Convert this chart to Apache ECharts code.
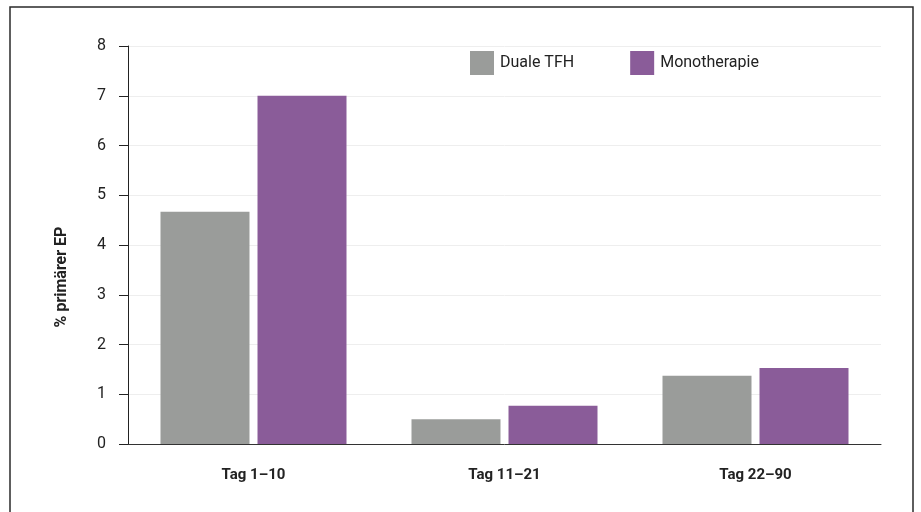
<!DOCTYPE html>
<html>
<head>
<meta charset="utf-8">
<script src="https://cdn.jsdelivr.net/npm/echarts@6/dist/echarts.min.js"></script>
<style>
  html, body { margin: 0; padding: 0; background: #fff; }
  #chart { width: 921px; height: 512px; }
</style>
</head>
<body>
<div id="chart"></div>
<script>
// Kategorien und Werte
var categories = ['Tag 1–10', 'Tag 11–21', 'Tag 22–90'];
var dualeTFH = [4.67, 0.5, 1.37];
var monotherapie = [7.0, 0.77, 1.53];
var seriesNames = ['Duale TFH', 'Monotherapie'];
var seriesColors = ['#9a9c9a', '#8a5c99'];
var yTitle = '% primärer EP';

var chart = echarts.init(document.getElementById('chart'));

var option = {
  animation: false,
  textStyle: { fontFamily: 'Roboto, "Open Sans", sans-serif' },
  graphic: [
    // Rahmen um das Diagramm
    {
      type: 'rect',
      shape: { x: 10, y: 7, width: 903, height: 530 },
      style: { fill: 'none', stroke: '#2a2a2a', lineWidth: 1.5 },
      silent: true
    },
    // Achsentitel (gedreht)
    {
      type: 'text',
      x: 62,
      y: 277,
      rotation: Math.PI / 2,
      style: {
        text: yTitle,
        fontSize: 16,
        fontWeight: 'bold',
        fill: '#222',
        align: 'center',
        verticalAlign: 'middle',
        fontFamily: 'Roboto, "Open Sans", sans-serif'
      },
      silent: true
    }
  ],
  legend: {
    left: 470,
    top: 51,
    padding: 0,
    itemWidth: 24,
    itemHeight: 24,
    itemGap: 56,
    icon: 'rect',
    textStyle: { fontSize: 16, color: '#222', padding: [0, 0, 0, 1] },
    data: seriesNames
  },
  grid: { left: 128, right: 40, top: 46, bottom: 68 },
  xAxis: {
    type: 'category',
    data: categories,
    axisLine: { lineStyle: { color: '#333', width: 1 } },
    axisTick: { show: false },
    axisLabel: { fontSize: 15, fontWeight: 'bold', color: '#222', margin: 24 }
  },
  yAxis: {
    type: 'value',
    min: 0,
    max: 8,
    interval: 1,
    axisLine: { show: true, lineStyle: { color: '#222', width: 1 } },
    axisTick: { show: true, length: 9, lineStyle: { color: '#222' } },
    axisLabel: { fontSize: 16, color: '#222', margin: 22 },
    splitLine: { lineStyle: { color: '#eeeeee' } }
  },
  series: [
    {
      name: seriesNames[0],
      type: 'bar',
      data: dualeTFH,
      barWidth: 89,
      barGap: '9%',
      itemStyle: { color: seriesColors[0] }
    },
    {
      name: seriesNames[1],
      type: 'bar',
      data: monotherapie,
      barWidth: 89,
      itemStyle: { color: seriesColors[1] }
    }
  ]
};

chart.setOption(option);
</script>
</body>
</html>
